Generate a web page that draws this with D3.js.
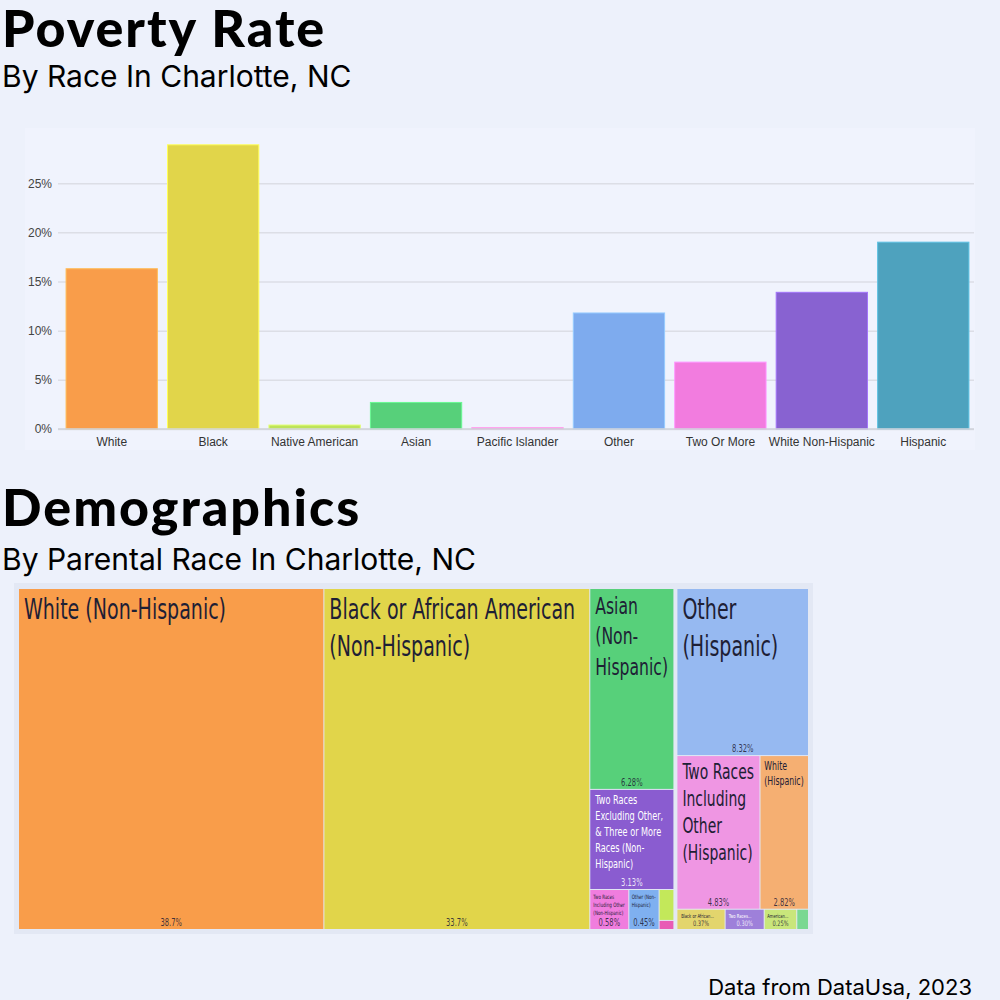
<!DOCTYPE html>
<html>
<head>
<meta charset="utf-8">
<script src="https://cdn.jsdelivr.net/npm/d3@7"></script>
<style>
  body { margin: 0; background: #edf1fb; }
  svg { display: block; }
</style>
</head>
<body>
<svg id="chart" width="1000" height="1000"></svg>
<script>
// ---- poverty rate by race (bar chart) ----
const races = ["White", "Black", "Native American", "Asian", "Pacific Islander",
               "Other", "Two Or More", "White Non-Hispanic", "Hispanic"];
const povertyRates = [16.3, 28.9, 0.4, 2.7, 0.15, 11.8, 6.8, 13.9, 19.0];
const raceColors = ["#f99d4a", "#e1d54a", "#bde35a", "#57d07a", "#ef89c8",
                    "#7eabee", "#f27cdf", "#8862d1", "#4ea2be"];
const yTicks = [0, 5, 10, 15, 20, 25];

// ---- demographics by parental race (treemap) ----
const groups = ["Non-Hispanic", "Hispanic"];
const demoNames = [
  "White (Non-Hispanic)", "Black or African American (Non-Hispanic)", "Asian (Non-Hispanic)",
  "Two Races Excluding Other, & Three or More Races (Non-Hispanic)",
  "Two Races Including Other (Non-Hispanic)", "Other (Non-Hispanic)",
  "American Indian & Alaska Native (Non-Hispanic)", "Native Hawaiian & Other Pacific Islander (Non-Hispanic)",
  "Other (Hispanic)", "Two Races Including Other (Hispanic)", "White (Hispanic)",
  "Black or African American (Hispanic)", "Two Races Excluding Other, & Three or More Races (Hispanic)",
  "American Indian & Alaska Native (Hispanic)", "Asian (Hispanic)"
];
const demoGroup = ["Non-Hispanic", "Non-Hispanic", "Non-Hispanic", "Non-Hispanic", "Non-Hispanic",
                   "Non-Hispanic", "Non-Hispanic", "Non-Hispanic",
                   "Hispanic", "Hispanic", "Hispanic", "Hispanic", "Hispanic", "Hispanic", "Hispanic"];
const demoShares = [38.7, 33.7, 6.28, 3.13, 0.58, 0.45, 0.17, 0.05,
                    8.32, 4.83, 2.82, 0.37, 0.30, 0.25, 0.09];
const demoColors = ["#f99d4a", "#e1d54a", "#57d07a", "#8a5cd0", "#f07dde", "#7fb0f0", "#c3e85a", "#e85bb5",
                    "#96b9f1", "#ef96e3", "#f5af72", "#e3d56d", "#9e80da", "#c9e67b", "#7ad892"];

const svg = d3.select("#chart");
const SANS = "Inter, 'Noto Sans', sans-serif";
const AXIS_FONT = "'Liberation Sans', Arial, sans-serif";
const LABEL_FONT = "'Liberation Sans Narrow', 'DejaVu Sans Condensed', 'Roboto', sans-serif";
const DARK = "#1e2035";

// titles
function title(text, yPos) {
  svg.append("text").attr("x", 2).attr("y", yPos)
    .style("font-family", "Lato, sans-serif").style("font-weight", 900).style("font-size", "52px")
    .style("letter-spacing", "2px")
    .text(text);
}
function subtitle(text, yPos) {
  svg.append("text").attr("x", 2).attr("y", yPos)
    .style("font-family", SANS).style("font-size", "30px").text(text);
}
title("Poverty Rate", 47);
subtitle("By Race In Charlotte, NC", 87);
title("Demographics", 526);
subtitle("By Parental Race In Charlotte, NC", 570);
svg.append("text").attr("x", 972).attr("y", 995).attr("text-anchor", "end")
  .style("font-family", SANS).style("font-size", "22px").text("Data from DataUsa, 2023");

// ---------- bar chart ----------
svg.append("rect").attr("x", 25).attr("y", 128).attr("width", 950).attr("height", 322)
  .attr("fill", "#f0f3fd");

const x = d3.scaleBand().domain(races).range([61, 974]).paddingInner(0.1).paddingOuter(0.05);
const y = d3.scaleLinear().domain([0, 30]).range([429, 134]);

const yAxis = svg.append("g").attr("transform", "translate(58,0)")
  .call(d3.axisLeft(y).tickValues(yTicks).tickSize(-916).tickPadding(6).tickFormat(d => d + "%"));
yAxis.select(".domain").remove();
yAxis.selectAll("line").attr("stroke", "#dcdee6").attr("stroke-width", 1.5);
yAxis.selectAll("text").attr("fill", "#444").style("font-family", AXIS_FONT).style("font-size", "12px");

svg.selectAll("rect.bar")
  .data(races)
  .join("rect")
  .attr("class", "bar")
  .attr("x", d => x(d))
  .attr("width", x.bandwidth())
  .attr("y", (d, i) => y(povertyRates[i]))
  .attr("height", (d, i) => y(0) - y(povertyRates[i]))
  .attr("fill", (d, i) => raceColors[i])
  .attr("stroke", (d, i) => d3.color(raceColors[i]).brighter(0.5))
  .attr("stroke-width", 1);

const xAxis = svg.append("g").attr("transform", "translate(0,429)")
  .call(d3.axisBottom(x).tickSize(0).tickPadding(8));
xAxis.select(".domain").attr("stroke", "#cfd2da").attr("stroke-width", 1.5)
  .attr("d", "M58,0H974");
xAxis.selectAll("text").attr("fill", "#333").style("font-family", AXIS_FONT).style("font-size", "12px");

// ---------- treemap ----------
svg.append("rect").attr("x", 14).attr("y", 583).attr("width", 799).attr("height", 351)
  .attr("fill", "#e3e8f4");

const treeData = {
  name: "all",
  children: groups.map(g => ({
    name: g,
    children: demoNames.map((n, i) => ({ name: n, value: demoShares[i], color: demoColors[i], group: demoGroup[i] }))
      .filter(d => d.group === g)
  }))
};
const root = d3.hierarchy(treeData).sum(d => d.value || 0).sort((a, b) => b.value - a.value);
d3.treemap().size([789, 340]).paddingInner(d => d.depth === 0 ? 4 : 1)(root);

const ctx = document.createElement("canvas").getContext("2d");
function measure(t, s) { ctx.font = `${s}px ${LABEL_FONT}`; return ctx.measureText(t).width; }
// squeeze so the label face is as narrow as the original condensed face
const squeeze = 246 / measure("Black or African American", 28);
const tw = (t, s) => measure(t, s) * squeeze;

function tokens(text) {
  const out = [];
  text.split(" ").forEach(word => {
    (word.match(/[^-]+-?/g) || [word]).forEach((p, j) => out.push({ t: p, space: j === 0 }));
  });
  return out;
}
function wrap(text, width, s) {
  const lines = [];
  let cur = "";
  for (const tk of tokens(text)) {
    if (tw(tk.t, s) > width) return null;
    const next = cur === "" ? tk.t : cur + (tk.space ? " " : "") + tk.t;
    if (tw(next, s) <= width) cur = next;
    else { lines.push(cur); cur = tk.t; }
  }
  if (cur) lines.push(cur);
  return lines;
}
function fitLabel(text, w, h) {
  for (let s = 28; s >= 5.5; s -= 0.5) {
    const lines = wrap(text, w, s);
    if (lines && lines.length * s * 1.32 <= h) return { s, lines };
  }
  return null;
}
function textColor(c) { return d3.lab(c).l < 62 ? "#ffffff" : DARK; }
const fmtPct = v => (v >= 1 ? d3.format(".3")(v) : d3.format(".2f")(v)) + "%";

const tm = svg.append("g").attr("transform", "translate(19,589)");
const leaf = tm.selectAll("g.leaf").data(root.leaves()).join("g").attr("class", "leaf");

leaf.append("rect")
  .attr("x", d => d.x0).attr("y", d => d.y0)
  .attr("width", d => d.x1 - d.x0).attr("height", d => d.y1 - d.y0)
  .attr("fill", d => d.data.color);

leaf.each(function (d) {
  const w = d.x1 - d.x0, h = d.y1 - d.y0;
  if (w < 25 || h < 15) return;
  const g = d3.select(this);
  const col = textColor(d.data.color);
  const pad = Math.min(5, w * 0.08);
  const pctSize = h > 30 ? 10 : 7.5;
  let fit = fitLabel(d.data.name, w - 2 * pad, h - pad - pctSize - 2);
  if (!fit) {
    // single truncated line
    const s = 5.5;
    const words = d.data.name.split(" ");
    let t = d.data.name;
    while (words.length > 1 && tw(t, s) > w - 2 * pad) { words.pop(); t = words.join(" ") + "..."; }
    fit = { s, lines: [t] };
  }
  fit.lines.forEach((line, i) => {
    g.append("text")
      .attr("transform", `translate(${d.x0 + pad},${d.y0 + 3 + fit.s * 0.95 + i * fit.s * 1.32}) scale(${squeeze},1)`)
      .attr("fill", col)
      .style("font-family", LABEL_FONT).style("font-size", fit.s + "px")
      .text(line);
  });
  g.append("text")
    .attr("transform", `translate(${(d.x0 + d.x1) / 2},${d.y1 - 3}) scale(${squeeze},1)`)
    .attr("text-anchor", "middle")
    .attr("fill", col).attr("fill-opacity", 0.85)
    .style("font-family", LABEL_FONT).style("font-size", pctSize + "px")
    .text(fmtPct(d.data.value));
});
</script>
</body>
</html>
